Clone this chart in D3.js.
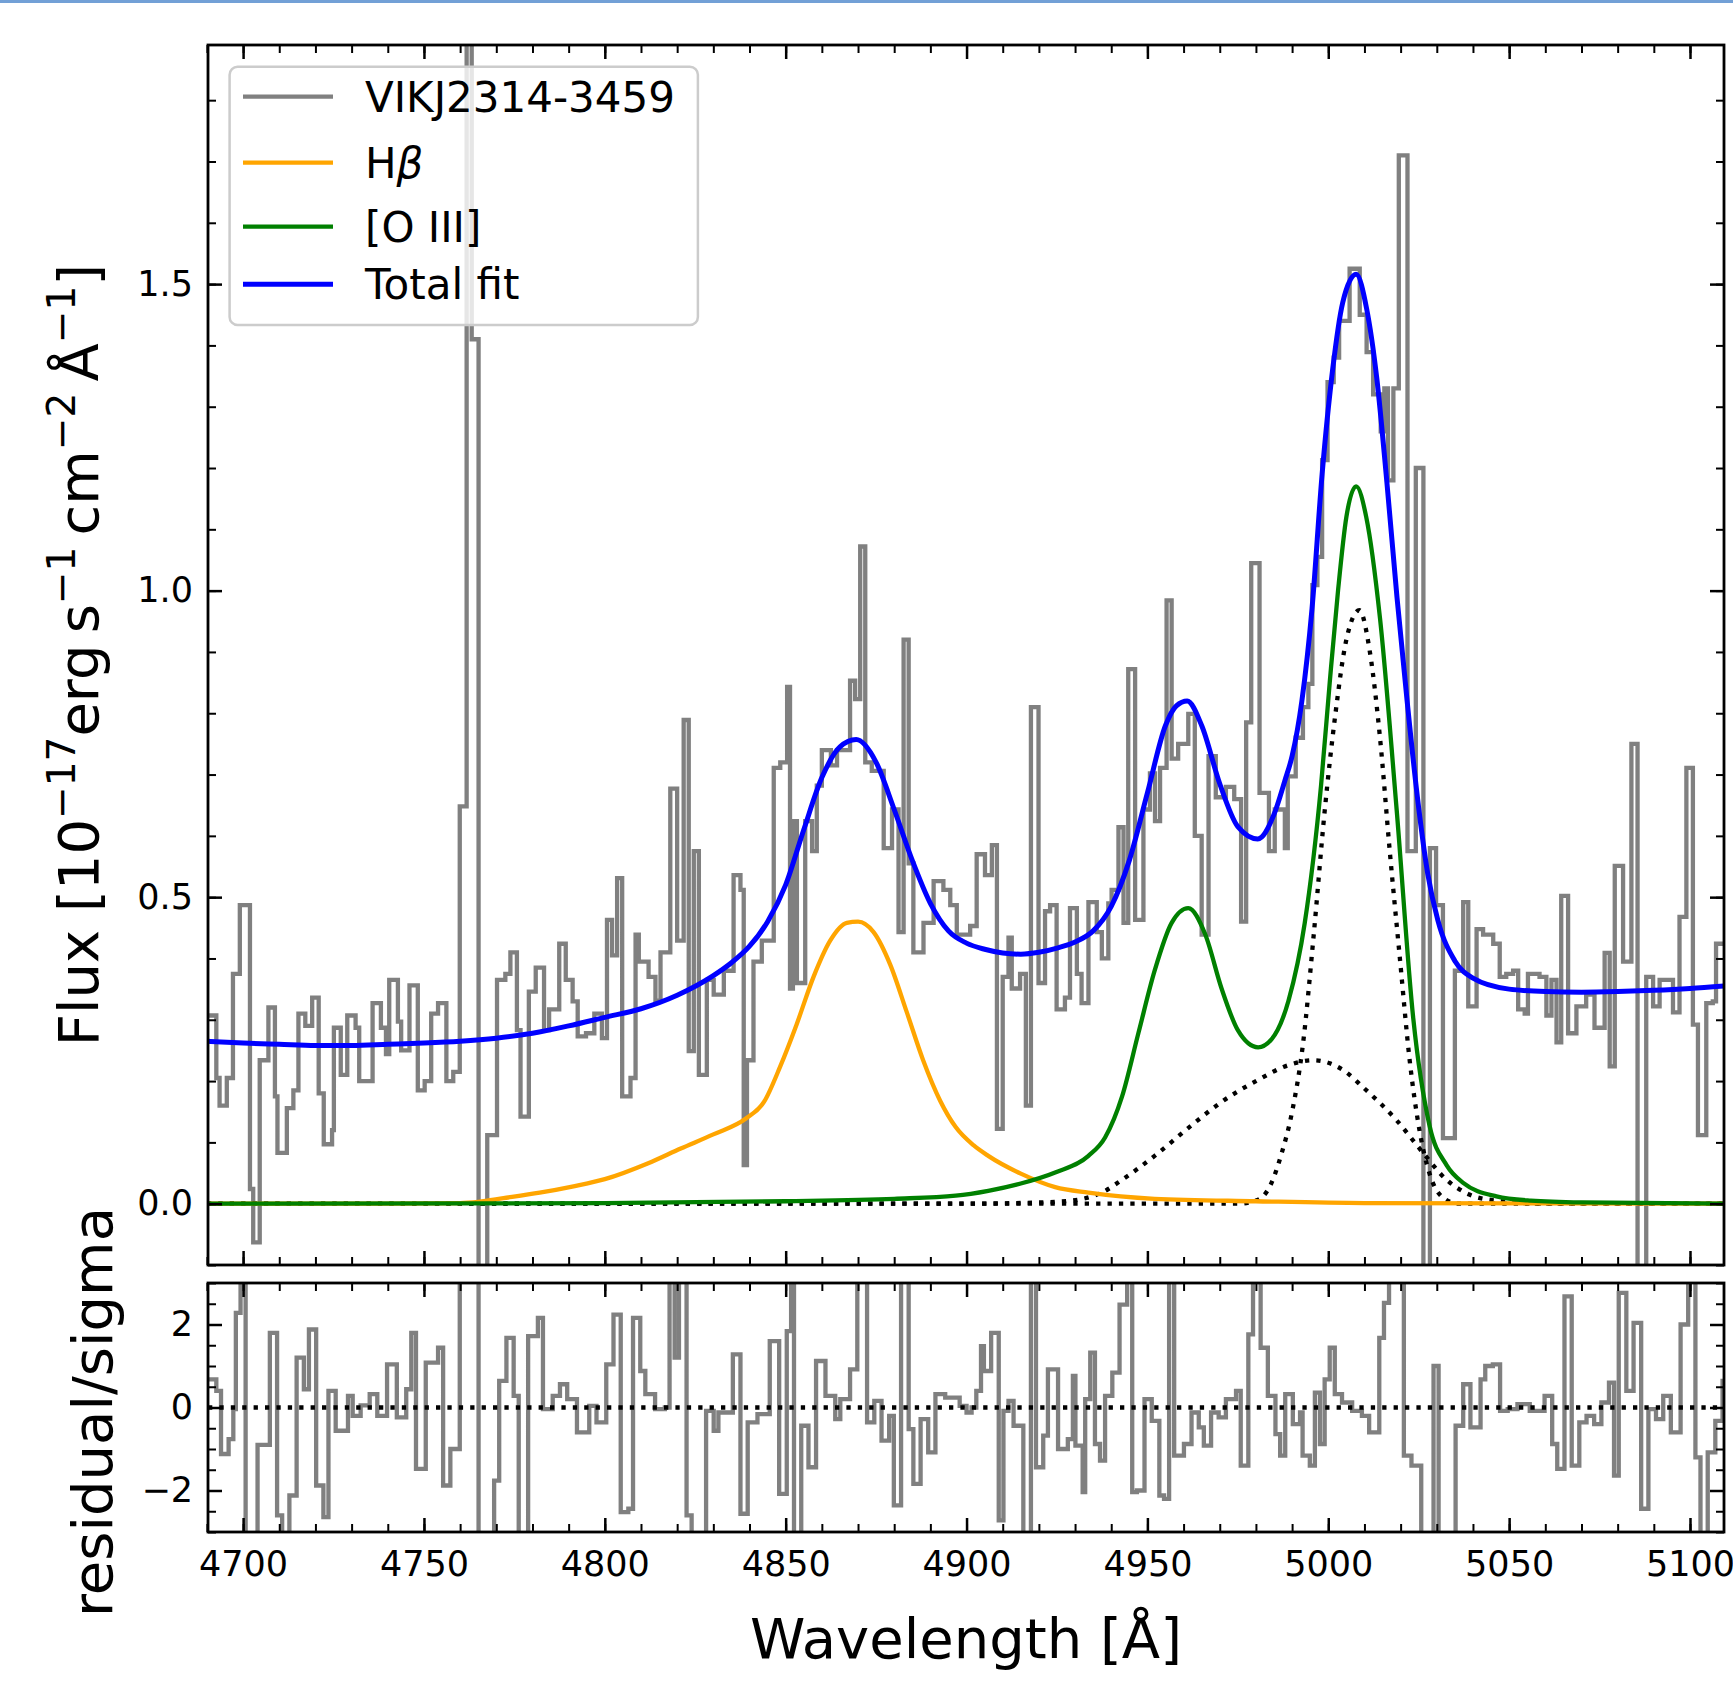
<!DOCTYPE html>
<html>
<head>
<meta charset="utf-8">
<script src="https://cdn.jsdelivr.net/npm/d3@7"></script>
<style>
  body { margin: 0; background: #fff; }
  text { font-family: "DejaVu Sans", sans-serif; fill: #000; }
</style>
</head>
<body>
<svg id="chart" width="1733" height="1682"></svg>
<script>
// observed spectrum, left edge of each step [A] and flux [1e-17 erg/s/cm2/A]
const specWave = [4690.3,4692.6,4693.5,4695.5,4697.2,4699.1,4701.9,4702.8,4704.6,4707.0,4708.8,4709.5,4712.1,4713.9,4715.3,4717.2,4719.1,4720.9,4722.3,4724.6,4725.1,4727.0,4728.8,4731.1,4732.1,4735.8,4738.1,4739.5,4740.4,4742.8,4743.7,4746.0,4748.3,4750.2,4752.0,4753.9,4756.2,4758.1,4759.9,4761.8,4763.2,4765.1,4767.5,4770.2,4772.5,4773.9,4775.7,4776.7,4779.0,4780.9,4783.2,4784.6,4787.4,4789.2,4791.1,4792.5,4794.8,4797.1,
  4799.2,4800.6,4802.0,4803.4,4804.8,4807.1,4808.5,4809.4,4812.1,4814.0,4815.4,4818.1,4820.0,4821.8,4823.2,4824.6,4826.0,4828.2,4830.1,4832.9,4835.6,4837.5,4838.4,4839.3,4841.1,4843.4,4846.7,4848.5,4850.4,4851.2,4852.0,4853.1,4855.4,4857.3,4858.6,4860.0,4862.5,4864.2,4867.8,4869.2,4870.6,4872.0,4873.8,4877.1,4879.4,4881.2,4882.6,4884.0,4885.3,4888.1,4890.9,4893.6,4895.5,4897.3,
  4901.0,4902.8,4905.1,4907.0,4908.4,4910.0,4911.6,4912.5,4914.8,4916.4,4917.8,4919.9,4921.7,4923.1,4924.9,4927.2,4928.6,4930.5,4931.8,4933.7,4936.0,4937.4,4939.2,4940.1,4942.0,4943.4,4944.7,4946.6,4948.9,4950.7,4952.1,4953.5,4955.3,4956.7,4958.5,4961.3,4963.1,4965.0,4966.9,4968.9,4971.7,4974.0,4975.9,4977.3,4978.7,4981.0,4983.6,4985.2,4988.0,4988.8,4991.0,4993.0,4994.5,4995.6,4997.0,4998.3,4999.8,5001.5,5003.0,5005.9,5008.7,5010.6,5012.4,5014.5,5015.5,5016.5,5018.0,
  5019.5,5021.9,5024.2,5026.3,5028.1,5029.8,5031.7,5035.0,5037.3,5038.7,5041.0,5042.8,5045.6,5047.4,5049.2,5051.1,5052.5,5054.3,5055.2,5058.4,5060.3,5061.7,5063.1,5064.4,5066.3,5068.6,5071.3,5073.6,5076.4,5077.8,5079.2,5081.5,5083.8,5085.5,5087.9,5089.8,5091.6,5095.3,5097.1,5099.0,5100.8,5102.2,5104.5,5106.3,5107.2];
const specFlux = [0.307,0.205,0.16,0.205,0.375,0.487,0.024,-0.063,0.234,0.32,0.175,0.083,0.156,0.185,0.31,0.29,0.336,0.18,0.097,0.12,0.287,0.21,0.307,0.287,0.2,0.327,0.287,0.244,0.365,0.297,0.25,0.356,0.185,0.2,0.31,0.327,0.2,0.215,0.648,2.2,1.41,-0.35,0.112,0.365,0.375,0.41,0.283,0.142,0.346,0.385,0.283,0.317,0.424,0.365,0.33,0.273,0.278,0.31,
  0.27,0.463,0.405,0.531,0.175,0.205,0.439,0.395,0.37,0.331,0.41,0.677,0.429,0.789,0.249,0.575,0.21,0.365,0.341,0.38,0.536,0.512,0.063,0.234,0.395,0.429,0.711,0.72,0.843,0.351,0.624,0.36,0.624,0.575,0.682,0.74,0.715,0.74,0.853,0.823,1.072,0.72,0.706,0.58,0.643,0.443,0.92,0.555,0.41,0.458,0.526,0.512,0.487,0.439,
  0.453,0.57,0.536,0.585,0.122,0.37,0.434,0.351,0.375,0.16,0.81,0.36,0.477,0.487,0.317,0.336,0.482,0.375,0.327,0.492,0.443,0.4,0.49,0.512,0.614,0.458,0.872,0.463,0.643,0.702,0.624,0.711,0.984,0.726,0.75,0.799,0.6,0.439,0.73,0.663,0.68,0.66,0.46,0.785,1.045,0.67,0.575,0.643,0.58,0.697,0.76,0.81,0.848,1.009,1.055,1.213,1.34,1.38,1.44,1.525,1.45,1.389,1.32,1.26,1.33,1.18,1.33,
  1.71,0.575,1.2,-0.15,0.58,0.487,0.107,0.38,0.492,0.322,0.448,0.439,0.424,0.37,0.375,0.38,0.317,0.31,0.375,0.37,0.307,0.365,0.263,0.502,0.278,0.322,0.341,0.287,0.409,0.224,0.551,0.395,0.75,-0.15,0.37,0.322,0.365,0.312,0.468,0.711,0.292,0.112,0.327,0.33,0.424];

// residual / sigma, left edge of each step
const resWave = [4690.3,4692.6,4693.9,4696.0,4697.3,4698.0,4699.3,4700.7,4704.0,4707.4,4709.4,4710.8,4712.8,4714.8,4716.8,4718.2,4720.2,4722.2,4723.6,4725.6,4729.0,4730.3,4732.5,4735.0,4737.1,4739.8,4742.5,4745.1,4746.5,4747.8,4750.5,4753.9,4755.3,4757.3,4759.9,4765.1,4769.4,4770.8,4772.8,4774.8,4776.2,4778.8,4781.5,4782.9,4785.6,4787.6,4789.6,4792.3,4795.7,4797.7,4800.4,4802.4,4804.4,4806.5,4807.8,4809.8,4811.2,4813.9,4816.6,4817.9,4819.3,4820.5,4822.6,4824.0,4828.0,4830.1,4831.4,4835.4,4837.5,4839.5,4842.2,4845.6,4848.2,4850.3,4851.5,4852.3,4854.3,4856.3,4858.4,4861.0,4863.7,4865.1,4867.8,4869.8,4872.5,4874.5,4876.5,4878.6,4879.9,4881.9,4884.0,4885.3,4887.3,4889.4,4891.4,4894.1,4898.1,
  4900.0,4901.4,4902.7,4904.0,4904.8,4906.8,4908.9,4910.2,4911.6,4913.0,4915.7,4917.8,4919.2,4921.2,4922.5,4925.3,4928.0,4929.4,4930.1,4932.1,4932.8,4934.2,4935.5,4936.9,4938.3,4940.3,4942.3,4944.4,4945.8,4947.1,4949.2,4951.2,4953.3,4954.6,4956.0,4957.4,4960.1,4962.2,4964.2,4965.6,4967.6,4969.7,4971.7,4974.5,4975.8,4977.9,4979.2,4981.3,4983.3,4985.4,4986.7,4988.1,4990.2,4992.2,4992.9,4994.9,4996.3,4997.7,4999.0,5000.4,5001.8,5003.8,5006.6,5009.3,5011.3,5014.1,5015.4,5016.8,5020.9,5023.0,5025.7,5029.1,5030.5,5035.2,5037.3,5039.3,5042.1,5043.4,5045.5,5047.5,5049.6,5052.3,5055.7,5059.8,5061.9,5063.3,5065.3,5067.3,5069.4,5071.4,5073.5,5075.5,5077.6,5079.0,5080.3,5082.4,5084.4,5086.5,5088.5,5090.6,5092.6,5094.7,5097.4,5099.5,5101.5,5102.9,5104.9,5107.0,5109.0];
const resVal = [0.68,0.4,-1.12,-0.76,-0.04,2.28,4.5,-4.5,-0.9,1.8,-2.6,-4.5,-2.12,1.2,0.44,1.88,-1.88,-2.64,0.4,-0.56,0.28,-0.2,0.05,0.32,-0.2,1.04,-0.24,0.44,1.8,-1.48,1.08,1.44,-1.88,-1.0,4.5,-4.5,-1.76,0.64,1.68,0.28,-4.5,1.72,2.16,-0.04,0.28,0.56,0.2,-0.6,0.04,-0.36,1.04,2.24,-2.52,-2.44,2.16,0.88,0.32,-0.04,0,4.5,1.2,4.5,-2.6,-4.5,-0.08,-0.56,-0.12,1.28,-2.56,-0.36,-0.16,1.6,-2.08,1.84,4.5,-4.5,-0.44,-1.44,1.12,0.28,-0.28,0.2,0.92,4.5,-0.36,0.16,-0.8,-0.2,-2.36,4.5,-0.52,-1.84,-0.28,-1.08,0.32,0.24,0.04,
  -0.12,0,0.4,1.48,0.88,1.8,-2.72,-0.08,0.16,-0.44,-4.5,4.5,-1.44,-0.68,0.92,-1.0,-0.76,0.76,-0.92,-2.04,0.2,1.32,-0.88,-1.28,0.28,0.84,2.48,4.5,-2.04,-2.0,0.2,-0.32,-2.12,-2.2,4.5,-1.16,-0.88,-0.12,-0.48,-0.92,-0.12,-0.24,0.2,0.4,-1.4,1.76,4.5,1.44,0.28,-0.64,-1.16,0.32,-0.4,-0.12,-1.16,-1.4,0.36,-0.88,0.68,1.44,0.32,0.12,-0.08,-0.2,-0.6,1.68,2.52,4.5,-1.16,-1.4,-4.5,1.0,-4.5,-0.44,0.56,-0.48,0.68,1.0,1.04,-0.08,-0.04,0.08,-0.08,0.28,-0.88,-1.48,2.68,-1.4,-0.36,-0.2,-0.4,0.12,0.6,-1.64,2.76,0.4,2.04,-2.44,-0.04,-0.28,0.28,-0.6,2.0,4.5,-1.2,-4.5,-1.08,-0.32,0.64];

// fitted model, sampled off the figure
const totWave = [4690,4700,4710,4720,4730,4740,4750,4760,4770,4780,4790,4800,4810,4820,4830,4835,4840,4845,4850,4855,4860,4865,4869.5,4875,4880,4885,4890,4895,4900,4905,4910,4915,4920,4925,4930,4935,4940,4945,4950,4955,4958,4961,4965,4970,4975,4980.5,4985,4988,4990,4992.7,4995.5,4998.3,5001.2,5004,5007.7,5010.6,5013.4,5016.2,5019,5021.8,5024.7,5027.5,5030.3,5035,5040,5050,5060,5070,5080,5090,5100,5109.4];
const totFlux = [0.265,0.262,0.26,0.258,0.258,0.26,0.262,0.265,0.27,0.278,0.29,0.304,0.318,0.34,0.372,0.393,0.42,0.46,0.52,0.61,0.695,0.745,0.757,0.72,0.643,0.56,0.49,0.445,0.425,0.415,0.409,0.407,0.41,0.417,0.427,0.445,0.485,0.56,0.67,0.78,0.812,0.82,0.78,0.685,0.615,0.595,0.635,0.69,0.73,0.82,0.97,1.19,1.36,1.47,1.516,1.46,1.347,1.177,0.989,0.82,0.66,0.538,0.462,0.396,0.368,0.35,0.346,0.345,0.346,0.348,0.351,0.355];
const hbWave = [4690,4740,4760,4765,4772,4782,4791,4800,4812,4821,4830,4839,4844,4848.5,4853,4857.7,4862.3,4866.9,4870,4874.3,4878.9,4883.5,4888,4892.7,4897,4902,4906,4915,4924.5,4933.7,4952,4980,5010,5109.4];
const hbFlux = [0,0,0.001,0.003,0.009,0.018,0.028,0.04,0.066,0.09,0.113,0.139,0.166,0.224,0.292,0.37,0.429,0.458,0.46,0.443,0.39,0.312,0.234,0.168,0.125,0.095,0.078,0.049,0.027,0.018,0.008,0.004,0.001,0];
const oiiiWave = [4690,4800,4850,4880,4897,4906,4915,4924.5,4933.7,4938.3,4943,4947.5,4952,4956.7,4961.3,4966,4970.5,4975,4980.6,4984.3,4989,4993.5,4998,5000.4,5002.7,5005,5007.7,5010.5,5014.3,5018.9,5023.5,5028,5032.7,5037.3,5046.5,5056,5070,5109.4];
const oiiiFlux = [0,0.001,0.004,0.008,0.013,0.021,0.033,0.051,0.078,0.108,0.175,0.278,0.38,0.458,0.482,0.439,0.351,0.283,0.255,0.268,0.331,0.458,0.682,0.85,1.0,1.12,1.17,1.12,0.955,0.643,0.302,0.127,0.063,0.034,0.012,0.005,0.002,0];
const broadWave = [4690,4900,4920,4929,4938,4943,4952,4961,4970.5,4980,4989,4996,5000.4,5004.6,5009.6,5018.9,5026.2,5032.7,5039,5046.5,5060,5109.4];
const broadFlux = [0,0,0.002,0.005,0.02,0.039,0.078,0.122,0.166,0.2,0.226,0.234,0.229,0.216,0.19,0.136,0.083,0.039,0.015,0.005,0,0];
const narrowWave = [4690,4975,4980,4984,4987,4990,4993,4996,4999,5002,5005,5008.6,5011.5,5014.3,5017,5019.8,5022.5,5025.3,5028,5031.7,5036,5109.4];
const narrowFlux = [0,0,0.005,0.03,0.08,0.15,0.26,0.44,0.64,0.8,0.92,0.968,0.9,0.76,0.575,0.4,0.234,0.117,0.049,0.01,0,0];

const xMajor = [4700, 4750, 4800, 4850, 4900, 4950, 5000, 5050, 5100];
const fluxMajor = [0, 0.5, 1.0, 1.5];
const resMajor = [-2, 0, 2];
const legendLabels = ["VIKJ2314-3459", "H", "[O III]", "Total fit"];
const legendColors = ["#808080", "#ffa500", "#008000", "#0000ff"];

const svg = d3.select("#chart");
svg.append("rect").attr("x", 0).attr("y", 0).attr("width", 1733).attr("height", 3).attr("fill", "#72a0d6");

const x = d3.scaleLinear().domain([4690.3, 5109.4]).range([208, 1724]);
const yMain = d3.scaleLinear().domain([-0.1, 1.89]).range([1265, 45]);
const yRes = d3.scaleLinear().domain([-3, 3]).range([1532, 1283]);
const xMinor = d3.range(4690, 5110, 10);

function clip(id, y) {
  svg.append("clipPath").attr("id", id).append("rect")
    .attr("x", x.range()[0]).attr("y", y.range()[1])
    .attr("width", x.range()[1] - x.range()[0])
    .attr("height", y.range()[0] - y.range()[1]);
}
clip("clipMain", yMain);
clip("clipRes", yRes);

function stepLine(y, xs, vs) {
  const pts = xs.map((w, i) => [w, vs[i]]);
  pts.push([x.domain()[1], vs[vs.length - 1]]);
  return d3.line().x(d => x(d[0])).y(d => y(d[1])).curve(d3.curveStepAfter)(pts);
}
function smoothLine(y, xs, vs) {
  return d3.line().x(d => x(d[0])).y(d => y(d[1])).curve(d3.curveMonotoneX)(xs.map((w, i) => [w, vs[i]]));
}

// main panel
const gMain = svg.append("g").attr("clip-path", "url(#clipMain)");
gMain.append("path").attr("d", stepLine(yMain, specWave, specFlux))
  .attr("fill", "none").attr("stroke", "#808080").attr("stroke-width", 4.3);
[[broadWave, broadFlux], [narrowWave, narrowFlux]].forEach(c => {
  gMain.append("path").attr("d", smoothLine(yMain, c[0], c[1]))
    .attr("fill", "none").attr("stroke", "#000").attr("stroke-width", 4.3)
    .attr("stroke-dasharray", "4.3,7.1");
});
gMain.append("path").attr("d", smoothLine(yMain, hbWave, hbFlux))
  .attr("fill", "none").attr("stroke", "#ffa500").attr("stroke-width", 4.3);
gMain.append("path").attr("d", smoothLine(yMain, oiiiWave, oiiiFlux))
  .attr("fill", "none").attr("stroke", "#008000").attr("stroke-width", 4.3);
gMain.append("path").attr("d", smoothLine(yMain, totWave, totFlux))
  .attr("fill", "none").attr("stroke", "#0000ff").attr("stroke-width", 5);

// residual panel
const gRes = svg.append("g").attr("clip-path", "url(#clipRes)");
gRes.append("path").attr("d", stepLine(yRes, resWave, resVal))
  .attr("fill", "none").attr("stroke", "#808080").attr("stroke-width", 4.3);
gRes.append("line").attr("x1", x.range()[0]).attr("x2", x.range()[1])
  .attr("y1", yRes(0)).attr("y2", yRes(0))
  .attr("stroke", "#000").attr("stroke-width", 4.3).attr("stroke-dasharray", "4.3,7.1");

// axes with inward ticks on all sides
function axes(y, yMaj, yMin, yFmt, xLabels) {
  const [yb, yt] = y.range();
  const g = svg.append("g");
  const add = (axis, tr) => {
    const a = g.append("g").attr("transform", tr).call(axis);
    a.select(".domain").remove();
    a.selectAll("line").attr("stroke", "#000");
    a.selectAll("text").attr("font-size", 35).attr("font-family", "DejaVu Sans");
    return a;
  };
  add(d3.axisBottom(x).tickValues(xMajor).tickSize(-14).tickPadding(19).tickFormat(xLabels ? d3.format("d") : ""), `translate(0,${yb})`)
    .selectAll("line").attr("stroke-width", 2.5);
  add(d3.axisBottom(x).tickValues(xMinor).tickSize(-8).tickFormat(""), `translate(0,${yb})`)
    .selectAll("line").attr("stroke-width", 2);
  add(d3.axisTop(x).tickValues(xMajor).tickSize(-14).tickFormat(""), `translate(0,${yt})`)
    .selectAll("line").attr("stroke-width", 2.5);
  add(d3.axisTop(x).tickValues(xMinor).tickSize(-8).tickFormat(""), `translate(0,${yt})`)
    .selectAll("line").attr("stroke-width", 2);
  add(d3.axisLeft(y).tickValues(yMaj).tickSize(-14).tickPadding(15).tickFormat(yFmt), `translate(${x.range()[0]},0)`)
    .selectAll("line").attr("stroke-width", 2.5);
  add(d3.axisLeft(y).tickValues(yMin).tickSize(-8).tickFormat(""), `translate(${x.range()[0]},0)`)
    .selectAll("line").attr("stroke-width", 2);
  add(d3.axisRight(y).tickValues(yMaj).tickSize(-14).tickFormat(""), `translate(${x.range()[1]},0)`)
    .selectAll("line").attr("stroke-width", 2.5);
  add(d3.axisRight(y).tickValues(yMin).tickSize(-8).tickFormat(""), `translate(${x.range()[1]},0)`)
    .selectAll("line").attr("stroke-width", 2);
  g.append("rect").attr("x", x.range()[0]).attr("y", yt)
    .attr("width", x.range()[1] - x.range()[0]).attr("height", yb - yt)
    .attr("fill", "none").attr("stroke", "#000").attr("stroke-width", 2.8);
}
axes(yMain, fluxMajor, d3.range(-0.1, 1.85, 0.1).map(v => +v.toFixed(1)), d3.format(".1f"), false);
axes(yRes, resMajor, d3.range(-3, 3.01, 0.5), d3.format("d"), true);

// axis labels
svg.append("text").attr("x", 966).attr("y", 1658).attr("text-anchor", "middle")
  .attr("font-size", 56).text("Wavelength [Å]");

const fl = svg.append("text").attr("transform", "translate(98,655) rotate(-90)")
  .attr("text-anchor", "middle").attr("font-size", 56);
const parts = [["Flux [10", 0], ["−17", 1], ["erg\u2009s", 0], ["−1", 1], ["\u2009cm", 0], ["−2", 1], ["\u2009Å", 0], ["−1", 1], ["]", 0]];
let up = false;
parts.forEach(p => {
  const t = fl.append("tspan").text(p[0]);
  if (p[1]) { t.attr("font-size", 39).attr("dy", -23); up = true; }
  else if (up) { t.attr("dy", 23); up = false; }
});

svg.append("text").attr("transform", "translate(112,1412) rotate(-90)")
  .attr("text-anchor", "middle").attr("font-size", 56).text("residual/sigma");

// legend
const lg = svg.append("g");
lg.append("rect").attr("x", 229.6).attr("y", 66.7).attr("width", 468.3).attr("height", 258.3)
  .attr("rx", 8).attr("fill", "#fff").attr("fill-opacity", 0.8)
  .attr("stroke", "#cccccc").attr("stroke-width", 2.5);
const rowY = [96.7, 162.7, 226.7, 284.3];
legendLabels.forEach((lab, i) => {
  lg.append("line").attr("x1", 243).attr("x2", 333).attr("y1", rowY[i]).attr("y2", rowY[i])
    .attr("stroke", legendColors[i]).attr("stroke-width", i === 3 ? 5 : 4.3);
  const t = lg.append("text").attr("x", 365).attr("y", rowY[i] + 15).attr("font-size", 42).text(lab);
  if (i === 1) t.append("tspan").attr("font-style", "italic").text("β");
});
</script>
</body>
</html>
